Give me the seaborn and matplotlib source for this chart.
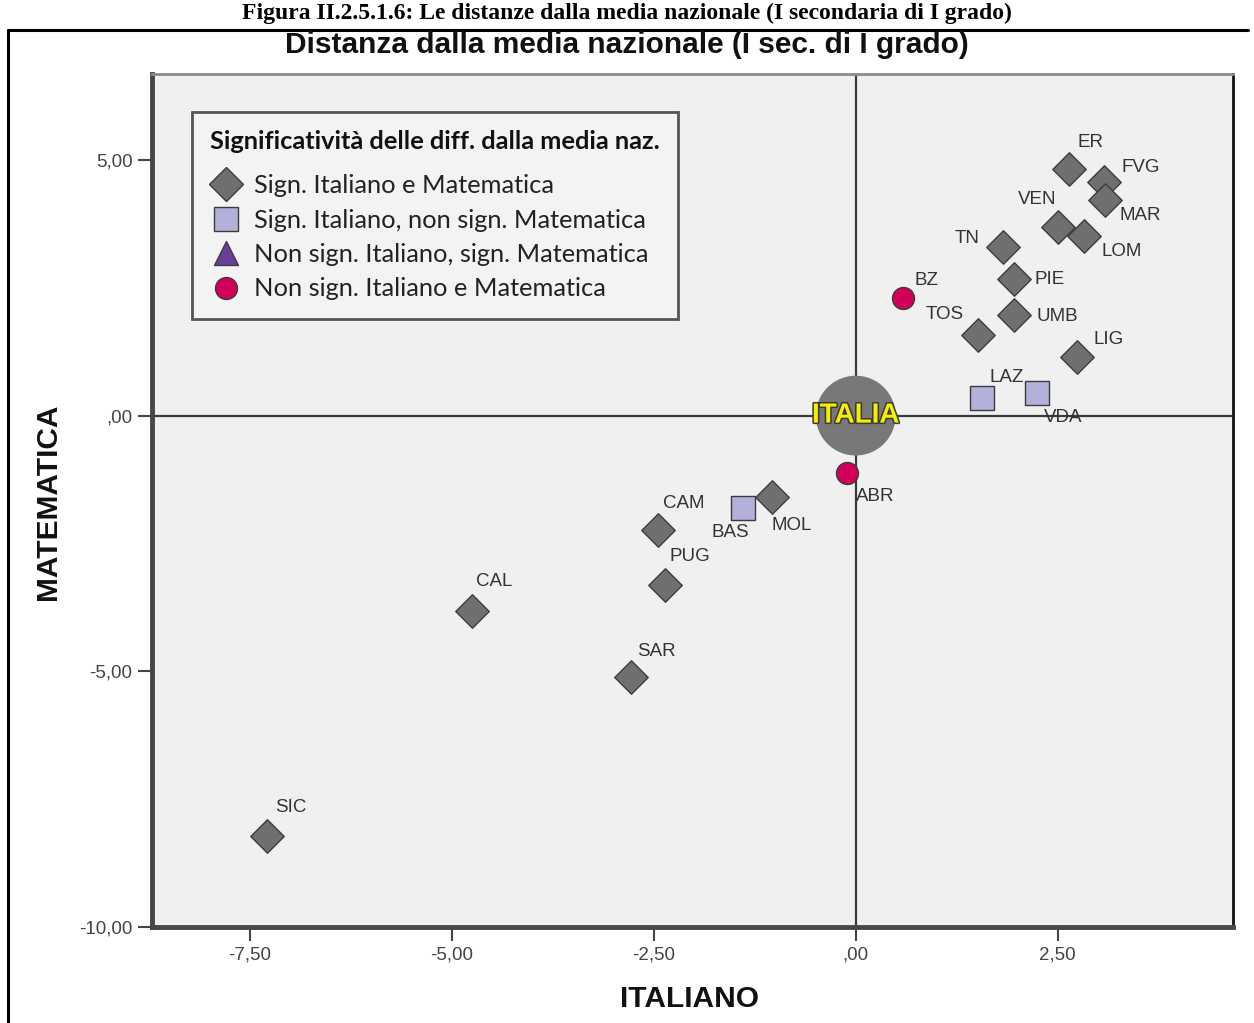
import matplotlib
matplotlib.use("Agg")
import matplotlib.pyplot as plt
import matplotlib.patheffects as pe
from matplotlib.lines import Line2D
from matplotlib.ticker import FuncFormatter
import seaborn as sns
import pandas as pd

# ---------------- data ----------------
regions = ["ER", "FVG", "MAR", "VEN", "LOM", "TN", "PIE", "UMB", "TOS", "LIG",
           "LAZ", "VDA", "BZ", "ABR", "MOL", "BAS", "CAM", "PUG", "CAL", "SAR", "SIC"]
italiano = [2.64, 3.07, 3.09, 2.51, 2.82, 1.82, 1.96, 1.96, 1.51, 2.74,
            1.56, 2.25, 0.58, -0.11, -1.03, -1.40, -2.45, -2.36, -4.75, -2.78, -7.29]
matematica = [4.82, 4.57, 4.22, 3.69, 3.52, 3.30, 2.68, 1.97, 1.58, 1.15,
              0.35, 0.45, 2.30, -1.13, -1.60, -1.80, -2.23, -3.32, -3.83, -5.12, -8.22]
G1 = "Sign. Italiano e Matematica"
G2 = "Sign. Italiano, non sign. Matematica"
G3 = "Non sign. Italiano, sign. Matematica"
G4 = "Non sign. Italiano e Matematica"
group_names = [G1, G2, G3, G4]
gruppo = [G1, G1, G1, G1, G1, G1, G1, G1, G1, G1,
          G2, G2, G4, G4, G1, G2, G1, G1, G1, G1, G1]
national_label = "ITALIA"
national_x = [0.0]
national_y = [0.0]
x_ticks = [-7.5, -5.0, -2.5, 0.0, 2.5]
y_ticks = [-10.0, -5.0, 0.0, 5.0]

# ---------------- styles ----------------
group_style = {
    G1: dict(marker="D", color="#6f6f6f", s=290),
    G2: dict(marker="s", color="#b3b0da", s=300),
    G3: dict(marker="^", color="#6a3f9a", s=300),
    G4: dict(marker="o", color="#d2005a", s=250),
}
label_offsets = {  # pixels, (dx, dy)
    "ER": (22, 27), "FVG": (37, 14), "MAR": (35, -16), "VEN": (-21, 27),
    "LOM": (38, -16), "TN": (-36, 8), "PIE": (36, -1), "UMB": (43, -2),
    "TOS": (-33, 20), "LIG": (32, 17), "LAZ": (25, 20), "VDA": (26, -25),
    "BZ": (24, 17), "ABR": (28, -23), "MOL": (19, -28), "BAS": (-12, -25),
    "CAM": (26, 26), "PUG": (25, 29), "CAL": (22, 30), "SAR": (25, 26),
    "SIC": (24, 28),
}

df = pd.DataFrame({"regione": regions, "italiano": italiano,
                   "matematica": matematica, "gruppo": gruppo})

sns.set_theme(style="white")
plt.rcParams["font.family"] = ["Liberation Sans", "DejaVu Sans"]
NARROW = ["Liberation Sans Narrow", "Liberation Sans", "DejaVu Sans"]
LEG = ["Lato", "DejaVu Sans"]

fig = plt.figure(figsize=(12.54, 10.23), dpi=100)
W, H = 1254, 1023
ax = fig.add_axes([152 / W, 1 - 927 / H, (1233 - 152) / W, (927 - 74) / H])
ax.set_facecolor("#f0f0f0")
ax.set_xlim(-8.71, 4.67)
ax.set_ylim(-10.0, 6.68)

ax.axhline(0, color="#3a3a3a", lw=1.6, zorder=1)
ax.axvline(0, color="#3a3a3a", lw=1.6, zorder=1)

# national mean bubble
sns.scatterplot(x=national_x, y=national_y, s=3300, color="#787878",
                edgecolor="none", ax=ax, legend=False, zorder=3)
ax.annotate(national_label, (national_x[0], national_y[0]), ha="center", va="center",
            fontsize=20, fontweight="bold", family=NARROW, color="#f4f000", zorder=6,
            path_effects=[pe.withStroke(linewidth=2.2, foreground="#3a3a3a")])

for g in group_names:
    sub = df[df["gruppo"] == g]
    if sub.empty:
        continue
    st = group_style[g]
    sns.scatterplot(data=sub, x="italiano", y="matematica", marker=st["marker"],
                    s=st["s"], color=st["color"], edgecolor="#3c3c3c", linewidth=1.0,
                    ax=ax, legend=False, zorder=4)

for r, xv, yv in zip(regions, italiano, matematica):
    dx, dy = label_offsets[r]
    ax.annotate(r, (xv, yv), xytext=(dx, dy), textcoords="offset pixels",
                ha="center", va="center", fontsize=13.5, color="#333333", zorder=5)

# ticks and spines
fmt = FuncFormatter(lambda v, p: ("-" if v < 0 else "") +
                    (lambda s: s[1:] if s.startswith("0") else s)(f"{abs(v):.2f}".replace(".", ",")))
ax.set_xticks(x_ticks)
ax.set_yticks(y_ticks)
ax.xaxis.set_major_formatter(fmt)
ax.yaxis.set_major_formatter(fmt)
ax.tick_params(axis="both", which="major", bottom=True, left=True, direction="out",
               length=10, width=1.5, color="#444444", labelsize=13.5,
               labelcolor="#444444", pad=4)
for side, (c, w) in {"left": ("#474747", 3.5), "bottom": ("#474747", 3.5),
                     "top": ("#8a8a8a", 2.0), "right": ("#111111", 2.0)}.items():
    ax.spines[side].set_visible(True)
    ax.spines[side].set_color(c)
    ax.spines[side].set_linewidth(w)

ax.set_xlabel("ITALIANO", fontsize=21.5, fontweight="bold", family=NARROW, color="#111111")
ax.set_ylabel("MATEMATICA", fontsize=21.5, fontweight="bold", family=NARROW, color="#111111")
ax.xaxis.set_label_coords((690 - 152) / 1081, (927 - 985) / 853)
ax.yaxis.set_label_coords((62 - 152) / 1081, (927 - 502) / 853)

# legend
handles = []
for g in group_names:
    st = group_style[g]
    handles.append(Line2D([], [], linestyle="none", marker=st["marker"],
                          markersize=(st["s"] ** 0.5) * 1.0, markerfacecolor=st["color"],
                          markeredgecolor="#3c3c3c", markeredgewidth=1.0))
leg = ax.legend(handles, group_names, title="Significatività delle diff. dalla media naz.",
                loc="upper left", bbox_to_anchor=((192 - 152) / 1081, (927 - 112) / 853),
                frameon=True, fancybox=False, framealpha=1, facecolor="#f3f3f3",
                edgecolor="#555555", prop={"family": LEG, "size": 18.3},
                title_fontproperties={"family": LEG, "size": 18.3, "weight": "bold"},
                alignment="left", borderpad=0.72, labelspacing=0.45, handletextpad=0.5,
                handlelength=1.2, borderaxespad=0)
leg._legend_box.sep = 15
leg.get_frame().set_linewidth(2)
for t in leg.get_texts():
    t.set_color("#222222")
leg.get_title().set_color("#111111")

# figure texts and border
fig.text(0.5, 1 - 45 / H, "Distanza dalla media nazionale (I sec. di I grado)",
         ha="center", va="center", fontsize=21.5, fontweight="bold", color="#111111")
fig.text(0.5, 1 - 19 / H,
         "Figura II.2.5.1.6: Le distanze dalla media nazionale (I secondaria di I grado)",
         ha="center", va="baseline", fontsize=17, fontweight="bold",
         family=["Liberation Serif", "DejaVu Serif"], color="#000000")
fig.add_artist(Line2D([8 / W, 1248 / W], [1 - 30 / H, 1 - 30 / H], color="#000000", lw=2.2))
fig.add_artist(Line2D([8 / W, 8 / W], [0, 1 - 30 / H], color="#000000", lw=2.2))

fig.savefig("out.png", dpi=100, facecolor="white")
